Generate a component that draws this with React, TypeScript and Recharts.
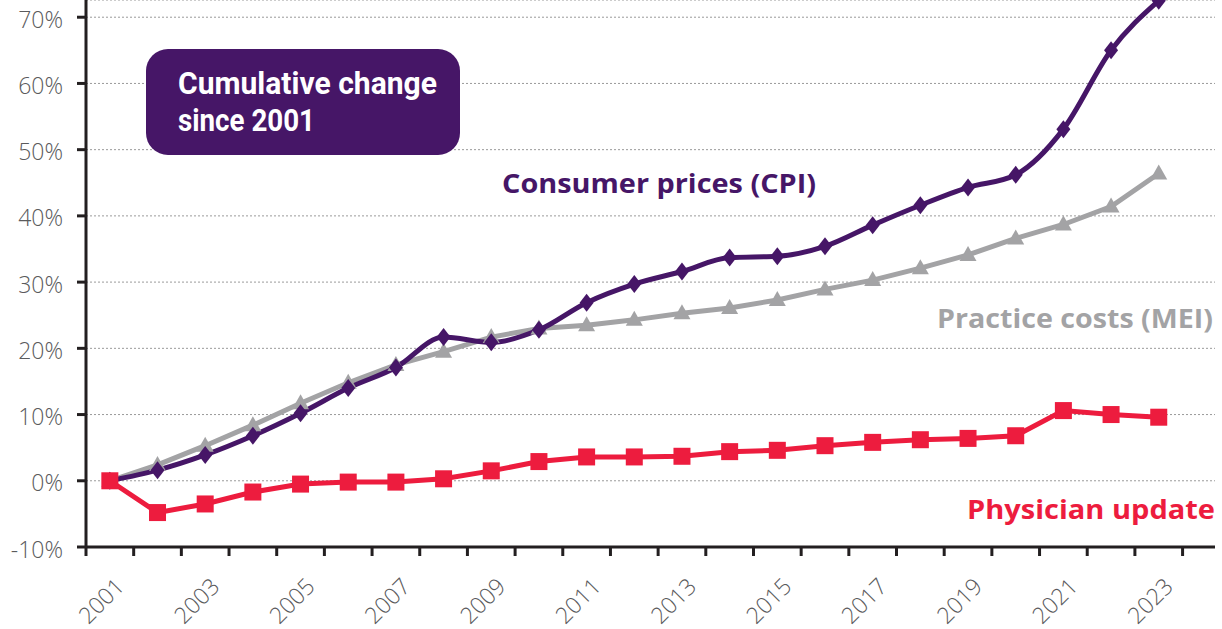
import { CartesianGrid, Line, LineChart, XAxis, YAxis } from "recharts";

const years = [
  2001, 2002, 2003, 2004, 2005, 2006, 2007, 2008, 2009, 2010, 2011, 2012,
  2013, 2014, 2015, 2016, 2017, 2018, 2019, 2020, 2021, 2022, 2023,
];
const consumerPrices = [
  0, 1.6, 3.9, 6.8, 10.2, 14.0, 17.1, 21.7, 20.9, 22.8, 26.9, 29.7, 31.6,
  33.7, 33.9, 35.4, 38.6, 41.6, 44.3, 46.2, 53.1, 65.0, 72.5,
];
const practiceCosts = [
  0, 2.4, 5.3, 8.4, 11.7, 14.8, 17.5, 19.5, 21.7, 23.0, 23.5, 24.3, 25.3,
  26.1, 27.3, 28.9, 30.3, 32.1, 34.1, 36.6, 38.7, 41.4, 46.4,
];
const physicianUpdate = [
  0, -4.8, -3.5, -1.7, -0.5, -0.2, -0.2, 0.3, 1.5, 2.9, 3.6, 3.6, 3.7, 4.4,
  4.6, 5.3, 5.8, 6.2, 6.4, 6.8, 10.6, 10.0, 9.6,
];
const yTicks = [-10, 0, 10, 20, 30, 40, 50, 60, 70];
const labelYears = [
  2001, 2003, 2005, 2007, 2009, 2011, 2013, 2015, 2017, 2019, 2021, 2023,
];

const PURPLE = "#461667";
const GRAY = "#a3a3a5";
const RED = "#ed1c3e";
const INK = "#231f20";
const TICK_TEXT = "#5a5a5c";

const data = years.map((year, i) => ({
  year,
  cpi: consumerPrices[i],
  mei: practiceCosts[i],
  phys: physicianUpdate[i],
}));

// tick marks sit on the boundaries between years
const boundaryTicks = [years[0] - 0.5, ...years.map((y) => y + 0.5)];

const Diamond = (p: any) => {
  const { cx, cy, index } = p;
  if (cx == null || cy == null) return null;
  return (
    <path
      key={`cpi-${index}`}
      d={`M${cx},${cy - 9}L${cx + 7},${cy}L${cx},${cy + 9}L${cx - 7},${cy}Z`}
      fill={PURPLE}
    />
  );
};

const Triangle = (p: any) => {
  const { cx, cy, index } = p;
  if (cx == null || cy == null) return null;
  return (
    <path
      key={`mei-${index}`}
      d={`M${cx},${cy - 9}L${cx + 8.5},${cy + 6}L${cx - 8.5},${cy + 6}Z`}
      fill={GRAY}
    />
  );
};

const Square = (p: any) => {
  const { cx, cy, index } = p;
  if (cx == null || cy == null) return null;
  return (
    <rect
      key={`phys-${index}`}
      x={cx - 8.5}
      y={cy - 8.5}
      width={17}
      height={17}
      fill={RED}
    />
  );
};

const YTick = ({ x, y, payload }: any) => (
  <text
    x={x}
    y={y + 10.5}
    textAnchor="end"
    fontFamily="'Open Sans', sans-serif"
    fontWeight={300}
    fontSize={23}
    fill={TICK_TEXT}
  >
    {`${payload.value}%`}
  </text>
);

const XTick = ({ x, y, payload }: any) => {
  const year = payload.value - 0.5;
  if (!labelYears.includes(year)) return null;
  const ax = x - 8;
  const ay = y + 32;
  return (
    <text
      x={ax}
      y={ay}
      textAnchor="end"
      transform={`rotate(-45, ${ax}, ${ay})`}
      fontFamily="'Open Sans', sans-serif"
      fontWeight={300}
      fontSize={23}
      fill={TICK_TEXT}
    >
      {year}
    </text>
  );
};

export default function App() {
  return (
    <div
      style={{
        position: "absolute",
        left: 0,
        top: 0,
        width: 1222,
        height: 629,
        background: "#fff",
      }}
    >
      <LineChart
        width={1222}
        height={629}
        data={data}
        margin={{ top: 0, right: 7, bottom: 0, left: 0 }}
      >
        <CartesianGrid
          horizontal
          vertical={false}
          stroke="#9a9a9a"
          strokeDasharray="2 2"
        />
        <XAxis
          dataKey="year"
          type="number"
          domain={[2000.5, 2024.18]}
          ticks={boundaryTicks}
          allowDataOverflow
          interval={0}
          height={82}
          tickSize={9}
          tickMargin={0}
          axisLine={{ stroke: INK, strokeWidth: 3 }}
          tickLine={{ stroke: INK, strokeWidth: 3 }}
          tick={<XTick />}
        />
        <YAxis
          type="number"
          domain={[-10, 72.6]}
          ticks={yTicks}
          allowDataOverflow
          interval={0}
          width={86}
          tickSize={9}
          tickMargin={14}
          axisLine={{ stroke: INK, strokeWidth: 3 }}
          tickLine={{ stroke: INK, strokeWidth: 3 }}
          tick={<YTick />}
        />
        <Line
          dataKey="mei"
          type="linear"
          stroke={GRAY}
          strokeWidth={5}
          dot={Triangle}
          activeDot={false}
          isAnimationActive={false}
        />
        <Line
          dataKey="cpi"
          type="monotone"
          stroke={PURPLE}
          strokeWidth={5}
          dot={Diamond}
          activeDot={false}
          isAnimationActive={false}
        />
        <Line
          dataKey="phys"
          type="linear"
          stroke={RED}
          strokeWidth={5}
          dot={Square}
          activeDot={false}
          isAnimationActive={false}
        />
      </LineChart>
      <svg
        width={1222}
        height={629}
        style={{ position: "absolute", left: 0, top: 0, pointerEvents: "none" }}
      >
        <rect x={146} y={49} width={314} height={106} rx={22} fill={PURPLE} />
        <g
          fontFamily="Roboto, 'Open Sans', sans-serif"
          fontWeight={700}
          fontSize={32}
          fill="#fff"
        >
          <text x={178} y={94} textLength={259} lengthAdjust="spacingAndGlyphs">
            Cumulative change
          </text>
          <text x={178} y={131} textLength={137} lengthAdjust="spacingAndGlyphs">
            since 2001
          </text>
        </g>
        <g fontFamily="'Open Sans', sans-serif" fontWeight={700} fontSize={27}>
          <text
            x={502}
            y={193}
            fill={PURPLE}
            textLength={314}
            lengthAdjust="spacingAndGlyphs"
          >
            Consumer prices (CPI)
          </text>
          <text
            x={937}
            y={328}
            fill={GRAY}
            textLength={276}
            lengthAdjust="spacingAndGlyphs"
          >
            Practice costs (MEI)
          </text>
          <text
            x={967}
            y={519}
            fill={RED}
            textLength={248}
            lengthAdjust="spacingAndGlyphs"
          >
            Physician update
          </text>
        </g>
      </svg>
    </div>
  );
}
